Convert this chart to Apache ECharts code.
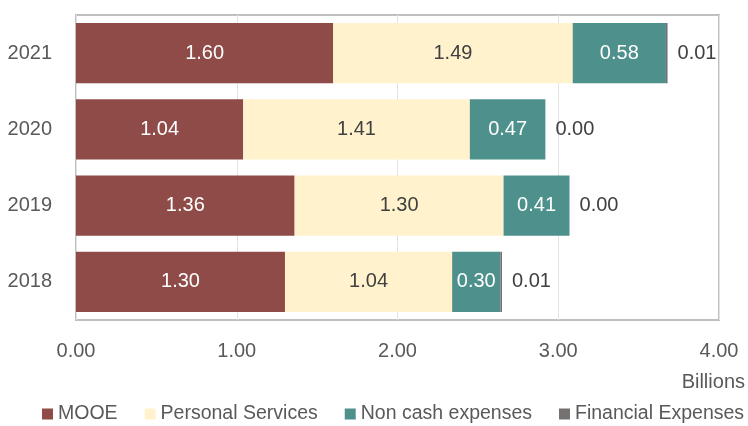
<!DOCTYPE html>
<html><head><meta charset="utf-8">
<script src="https://cdn.jsdelivr.net/npm/echarts@6/dist/echarts.min.js"></script>
<style>html,body{margin:0;padding:0;background:#fff}#c{width:748px;height:426px}</style>
</head><body><div id="c"></div>
<script>
const years = ['2018', '2019', '2020', '2021'];
const mooe = [1.30, 1.36, 1.04, 1.60];
const personalServices = [1.04, 1.30, 1.41, 1.49];
const nonCash = [0.30, 0.41, 0.47, 0.58];
const financial = [0.01, 0.00, 0.00, 0.01];
const xTicks = [0, 1, 2, 3, 4];

const FONT = '"Liberation Sans", Arial, sans-serif';
const chart = echarts.init(document.getElementById('c'));
const fmt = p => p.value.toFixed(2);
function ser(name, data, color, labelColor, extra) {
  return Object.assign({
    name, type: 'bar', stack: 'total', data, barWidth: '79%',
    itemStyle: { color },
    label: { show: true, position: 'inside', color: labelColor, fontSize: 20, fontFamily: FONT, formatter: fmt },
    emphasis: { disabled: true }
  }, extra || {});
}
chart.setOption({
  animation: false,
  textStyle: { fontFamily: FONT },
  grid: { left: 76, right: 29, top: 15, bottom: 106, show: true, borderColor: '#BFBFBF', borderWidth: 2, containLabel: false },
  legend: {
    bottom: 2, left: 42, right: 0, padding: 0, itemWidth: 11, itemHeight: 11, itemGap: 27, icon: 'rect',
    textStyle: { fontSize: 19.5, color: '#595959', fontFamily: FONT },
    data: ['MOOE', 'Personal Services', 'Non cash expenses', 'Financial Expenses']
  },
  xAxis: {
    type: 'value', min: xTicks[0], max: xTicks[xTicks.length - 1], interval: 1,
    axisLine: { show: false }, axisTick: { show: false },
    splitLine: { lineStyle: { color: '#E3E3E3', width: 1 } },
    axisLabel: { formatter: v => v.toFixed(2), fontSize: 20, color: '#595959', margin: 21, fontFamily: FONT }
  },
  yAxis: {
    type: 'category', data: years,
    axisLine: { show: false }, axisTick: { show: false },
    axisLabel: { fontSize: 20, color: '#595959', margin: 24, fontFamily: FONT }
  },
  graphic: [{ type: 'text', right: 3, top: 372, style: { text: 'Billions', fontSize: 20, fill: '#595959', fontFamily: FONT } }],
  series: [
    ser('MOOE', mooe, '#8E4B48', '#FFFFFF'),
    ser('Personal Services', personalServices, '#FFF2CC', '#404040'),
    ser('Non cash expenses', nonCash, '#4E918C', '#FFFFFF'),
    ser('Financial Expenses', financial, '#767171', '#404040', {
      label: { show: true, position: 'right', distance: 10, color: '#404040', fontSize: 20, fontFamily: FONT, formatter: fmt }
    })
  ]
});
</script></body></html>
